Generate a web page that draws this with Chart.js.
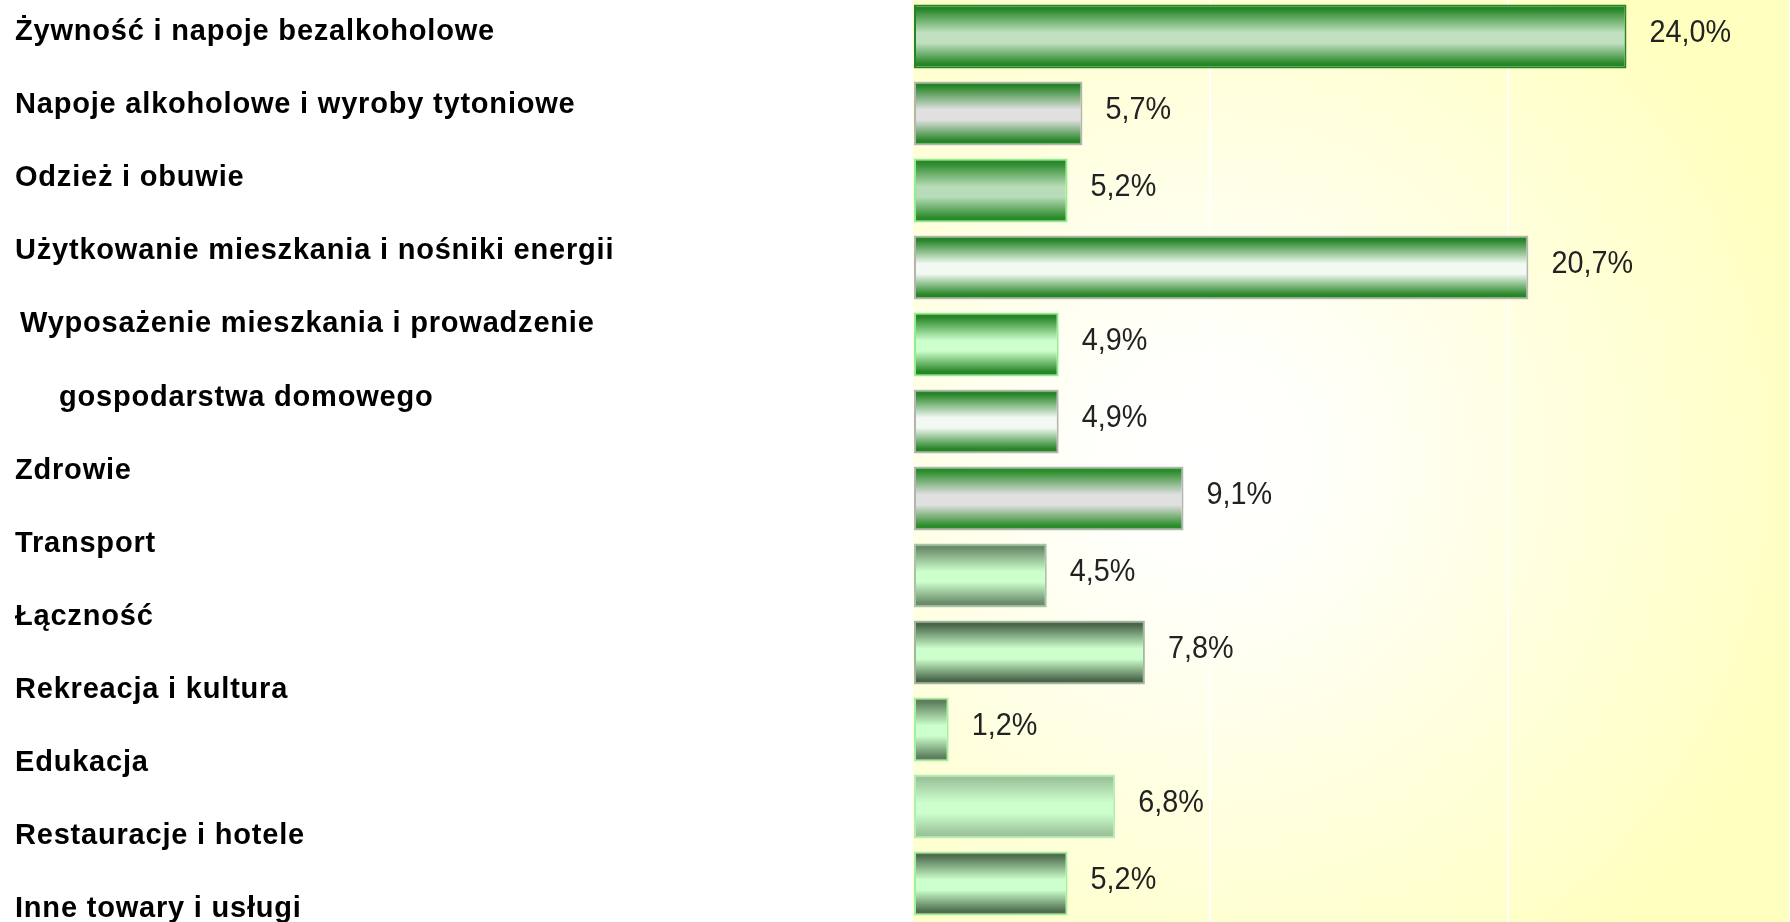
<!DOCTYPE html>
<html>
<head>
<meta charset="utf-8">
<script src="https://cdn.jsdelivr.net/npm/chart.js@4"></script>
<style>
  html, body { margin: 0; padding: 0; background: #fff; overflow: hidden; }
  #wrap { position: absolute; left: 0; top: -2px; width: 1790px; height: 924px; }
</style>
</head>
<body>
<div id="wrap"><canvas id="chart"></canvas></div>
<script>
// categories (a wrapped label is given as an array of lines)
const categories = [
  "Żywność i napoje bezalkoholowe",
  "Napoje alkoholowe i wyroby tytoniowe",
  "Odzież i obuwie",
  "Użytkowanie mieszkania i nośniki energii",
  ["Wyposażenie mieszkania i prowadzenie", "gospodarstwa domowego"],
  "Zdrowie",
  "Transport",
  "Łączność",
  "Rekreacja i kultura",
  "Edukacja",
  "Restauracje i hotele",
  "Inne towary i usługi",
];
const values = [24.0, 5.7, 5.2, 20.7, 4.9, 4.9, 9.1, 4.5, 7.8, 1.2, 6.8, 5.2];

// bar styling: gradient edge colour, centre colour, outline
const edgeColors = ["#268526", "#268526", "#2a892a", "#268526", "#268526", "#268526", "#2a8c2a", "#6b8b6b", "#4a664a", "#5e7e5e", "#9cc49c", "#4e6e4e"];
const centerColors = ["#c0e0c0", "#e0e0e0", "#b8dcb8", "#f2f8f2", "#ccffcc", "#f2f8f2", "#e0e0e0", "#ccffcc", "#ccffcc", "#ccffcc", "#ccffcc", "#ccffcc"];
const borderColors = ["#268526", "#b4b4b4", "#90ee90", "#b4b4b4", "#90ee90", "#b4b4b4", "#b4b4b4", "#a8c4a8", "#a0b8a0", "#a0f0a0", "#b0f0b0", "#a0f0a0"];

const fmt = (v) => v.toFixed(1).replace(".", ",") + "%";

// plot background: white glow in the middle fading to pale yellow
const backgroundPlugin = {
  id: "plotBackground",
  beforeDraw(chart) {
    const { ctx, chartArea: a } = chart;
    const cx = a.left + (a.right - a.left) * 0.33;
    const cy = (a.top + a.bottom) / 2;
    const g = ctx.createRadialGradient(cx, cy, 0, cx, cy, 620);
    g.addColorStop(0, "#ffffff");
    g.addColorStop(0.2, "#fffffa");
    g.addColorStop(1, "#ffffc0");
    ctx.save();
    ctx.fillStyle = g;
    ctx.fillRect(a.left, a.top, a.right - a.left, a.bottom - a.top);
    ctx.restore();
  },
};

// vertical gradient fill on every bar
const barGradientPlugin = {
  id: "barGradient",
  beforeDatasetDraw(chart, args) {
    const ctx = chart.ctx;
    args.meta.data.forEach((el, i) => {
      const top = el.y - el.height / 2;
      const bottom = el.y + el.height / 2;
      const g = ctx.createLinearGradient(0, top, 0, bottom);
      g.addColorStop(0, edgeColors[i]);
      g.addColorStop(0.07, edgeColors[i]);
      g.addColorStop(0.44, centerColors[i]);
      g.addColorStop(0.6, centerColors[i]);
      g.addColorStop(0.93, edgeColors[i]);
      g.addColorStop(1, edgeColors[i]);
      el.options.backgroundColor = g;
    });
  },
};

// value labels to the right of the bars
const valueLabelPlugin = {
  id: "valueLabels",
  afterDatasetsDraw(chart) {
    const ctx = chart.ctx;
    const meta = chart.getDatasetMeta(0);
    ctx.save();
    ctx.font = "32px 'Liberation Sans', Arial, sans-serif";
    ctx.fillStyle = "#222";
    ctx.textBaseline = "middle";
    meta.data.forEach((el, i) => {
      ctx.save();
      ctx.translate(el.x + 23, el.y - 3);
      ctx.scale(0.9, 1);
      ctx.fillText(fmt(values[i]), 0, 0);
      ctx.restore();
    });
    ctx.restore();
  },
};

// category names in a text column on the left
const labelColumnPlugin = {
  id: "labelColumn",
  afterDraw(chart) {
    const ctx = chart.ctx;
    const lines = [];
    categories.forEach((c) => {
      if (Array.isArray(c)) {
        c.forEach((t, k) => lines.push({ text: t, indent: k === 0 ? 5 : 44 }));
      } else {
        lines.push({ text: c, indent: 0 });
      }
    });
    const first = 34;
    const step = 73.1;
    ctx.save();
    ctx.font = "bold 29px 'Liberation Sans', Arial, sans-serif";
    ctx.letterSpacing = "0.8px";
    ctx.fillStyle = "#000";
    ctx.textBaseline = "middle";
    lines.forEach((l, i) => {
      ctx.fillText(l.text, 15 + l.indent, first + step * i);
    });
    ctx.restore();
  },
};

new Chart(document.getElementById("chart"), {
  type: "bar",
  data: {
    labels: categories,
    datasets: [
      {
        data: values,
        backgroundColor: centerColors,
        borderColor: borderColors,
        borderWidth: 2,
        borderSkipped: false,
        barPercentage: 0.83,
        categoryPercentage: 1,
      },
    ],
  },
  options: {
    indexAxis: "y",
    responsive: true,
    maintainAspectRatio: false,
    animation: false,
    layout: { padding: { left: 913, right: 0, top: 0, bottom: 0 } },
    scales: {
      x: {
        min: 0,
        max: 29.5,
        ticks: { display: false, stepSize: 10 },
        grid: {
          color: (c) => (c.tick && c.tick.value === 0 ? "rgba(0,0,0,0)" : "#ffffff"),
          lineWidth: 2,
          drawTicks: false,
        },
        border: { display: false },
      },
      y: {
        display: false,
      },
    },
    plugins: {
      legend: { display: false },
      tooltip: { enabled: false },
    },
  },
  plugins: [backgroundPlugin, barGradientPlugin, valueLabelPlugin, labelColumnPlugin],
});
</script>
</body>
</html>
